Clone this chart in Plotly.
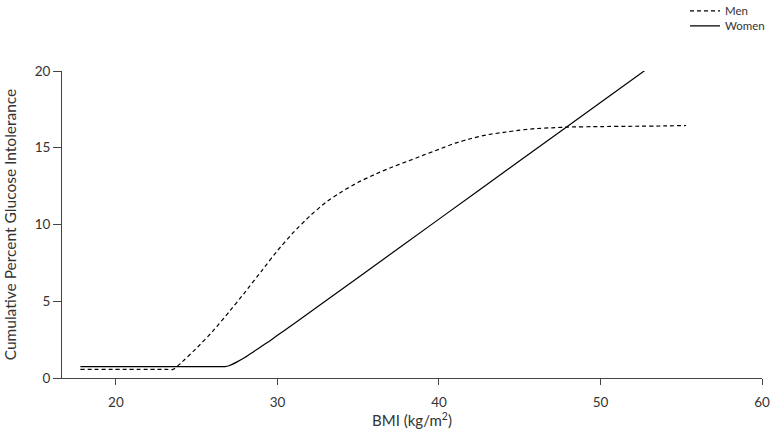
import plotly.graph_objects as go

# Men (dashed) cumulative percent glucose intolerance by BMI
men_bmi = [17.8, 23.0, 23.55, 24.0, 25.0, 26.0, 27.0, 28.0, 29.0, 30.0, 31.0, 32.0, 33.0, 34.0, 35.0,
           36.0, 37.0, 38.0, 39.0, 40.0, 41.0, 42.0, 43.0, 44.0, 45.0, 46.0, 47.0, 48.0, 50.0,
           52.0, 54.0, 55.3]
men_pct = [0.56, 0.56, 0.56, 0.95, 1.95, 3.05, 4.3, 5.6, 6.95, 8.3, 9.5, 10.55, 11.45, 12.15, 12.75,
           13.25, 13.7, 14.1, 14.5, 14.9, 15.3, 15.6, 15.85, 16.0, 16.15, 16.25, 16.3, 16.35, 16.38,
           16.4, 16.42, 16.45]

# Women (solid)
women_bmi = [17.8, 26.2, 26.75, 27.0, 27.5, 28.0, 28.5, 29.0, 29.5, 30.0, 30.5, 31.0, 35.0, 40.0,
             45.0, 50.0, 52.9]
women_pct = [0.74, 0.74, 0.74, 0.8, 1.05, 1.35, 1.7, 2.05, 2.4, 2.78, 3.15, 3.52, 6.55, 10.35,
             14.15, 17.95, 20.15]

x_ticks = [20, 30, 40, 50, 60]
y_ticks = [0, 5, 10, 15, 20]

FONT = "Lato, 'Open Sans', sans-serif"
TXT = "#333333"

fig = go.Figure()
fig.add_trace(go.Scatter(
    x=men_bmi, y=men_pct, mode="lines", name="Men", legend="legend",
    line=dict(color="black", width=1.2, dash="4px,3px", shape="spline", smoothing=0.4),
))
fig.add_trace(go.Scatter(
    x=women_bmi, y=women_pct, mode="lines", name="Women", legend="legend2",
    line=dict(color="black", width=1.2, shape="spline", smoothing=0.3),
))

leg_common = dict(xanchor="left", yanchor="middle", font=dict(size=11.5, color=TXT),
                  bgcolor="rgba(0,0,0,0)", borderwidth=0, itemwidth=30)

fig.update_layout(
    width=771, height=436,
    margin=dict(l=62, r=9, t=71, b=58, autoexpand=False),
    paper_bgcolor="white", plot_bgcolor="white",
    font=dict(family=FONT, size=13, color=TXT),
    showlegend=True,
    legend=dict(x=0.890, y=1.196, **leg_common),
    legend2=dict(x=0.890, y=1.147, **leg_common),
    xaxis=dict(
        range=[16.66, 60], tickvals=x_ticks, ticks="outside", ticklen=6,
        tickcolor="#444", showline=True, linecolor="#444", linewidth=1,
        showgrid=False, zeroline=False, ticklabelstandoff=6,
        title=dict(text="BMI (kg/m<sup>2</sup>)", font=dict(size=15, color=TXT), standoff=4),
        tickfont=dict(size=13.5, color=TXT),
    ),
    yaxis=dict(
        range=[0, 20], tickvals=y_ticks, ticks="outside", ticklen=8,
        tickcolor="#444", showline=True, linecolor="#444", linewidth=1,
        showgrid=False, zeroline=False,
        title=dict(text="Cumulative Percent Glucose Intolerance", font=dict(size=15.5, color=TXT), standoff=14),
        tickfont=dict(size=13.5, color=TXT),
    ),
)

fig.write_html(
    "out.html",
    config={"displayModeBar": False},
    post_script="document.body.style.margin='0';document.body.style.overflow='hidden';",
)
